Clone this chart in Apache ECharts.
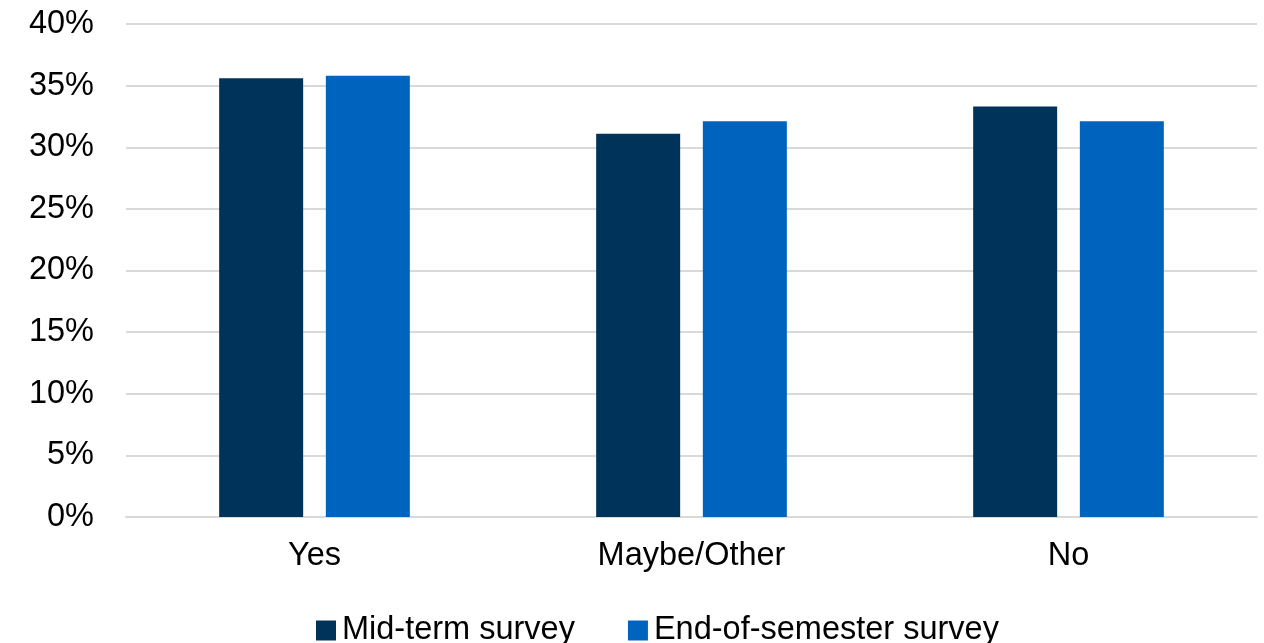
<!DOCTYPE html>
<html>
<head>
<meta charset="utf-8">
<script src="https://cdn.jsdelivr.net/npm/echarts@6/dist/echarts.min.js"></script>
<style>
  html, body { margin: 0; padding: 0; background: #ffffff; }
  #chart { width: 1264px; height: 643px; }
</style>
</head>
<body>
<div id="chart"></div>
<script>
// Survey responses by category (percent of respondents)
const categories = ['Yes', 'Maybe/Other', 'No'];
const midTerm = [35.6, 31.1, 33.3];
const endOfSemester = [35.8, 32.1, 32.1];
const seriesNames = ['Mid-term survey', 'End-of-semester survey'];

const FONT = '"Liberation Sans", Arial, Helvetica, sans-serif';
const FS = 32.5;

const chart = echarts.init(document.getElementById('chart'), null, { renderer: 'canvas' });

chart.setOption({
  animation: false,
  backgroundColor: '#ffffff',
  textStyle: { fontFamily: FONT, color: '#000000' },
  grid: { left: 126, right: 7, top: 24, bottom: 126, containLabel: false },
  legend: {
    data: seriesNames,
    left: 316,
    top: 614,
    padding: 0,
    itemWidth: 20,
    itemHeight: 20,
    itemGap: 53,
    icon: 'rect',
    textStyle: { fontFamily: FONT, fontSize: FS, color: '#000000', padding: [2, 0, 0, 1] }
  },
  xAxis: {
    type: 'category',
    data: categories,
    axisLine: { show: true, lineStyle: { color: '#d9d9d9', width: 2 } },
    axisTick: { show: false },
    axisLabel: { fontFamily: FONT, fontSize: FS, color: '#000000', margin: 23 }
  },
  yAxis: {
    type: 'value',
    min: 0,
    max: 40,
    interval: 5,
    axisLine: { show: false },
    axisTick: { show: false },
    axisLabel: { fontFamily: FONT, fontSize: FS, color: '#000000', margin: 32, formatter: '{value}%', padding: [3, 0, 0, 0] },
    splitLine: { show: true, lineStyle: { color: '#d9d9d9', width: 2 } }
  },
  series: [
    {
      name: seriesNames[0],
      type: 'bar',
      data: midTerm,
      barWidth: 84,
      barGap: '27%',
      itemStyle: { color: '#00335a' }
    },
    {
      name: seriesNames[1],
      type: 'bar',
      data: endOfSemester,
      barWidth: 84,
      barGap: '27%',
      itemStyle: { color: '#0064bf' }
    }
  ]
});
</script>
</body>
</html>
